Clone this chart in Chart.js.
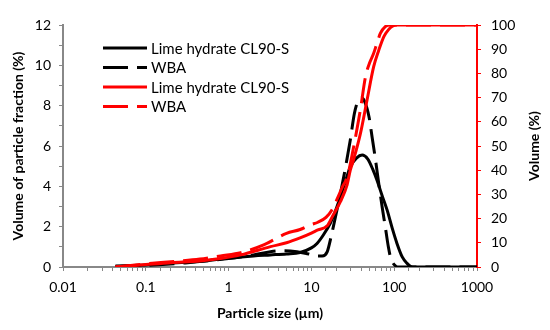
<!DOCTYPE html>
<html>
<head>
<meta charset="utf-8">
<script src="https://cdn.jsdelivr.net/npm/chart.js@4"></script>
<style>
  body { margin: 0; background: #fff; }
  #wrap { width: 550px; height: 330px; }
</style>
</head>
<body>
<div id="wrap"><canvas id="psd"></canvas></div>
<script>
// series names
var limeName = 'Lime hydrate CL90-S';
var wbaName = 'WBA';
var rightTitle = 'Volume (%)';

// frequency curves (left axis, %)
var limeFreqSize = [0.043, 0.1, 0.18, 0.5, 0.95, 2, 3.2, 5, 7.3, 10, 11.7, 14, 16.9, 20, 22.4, 26, 29.5, 35, 41, 48, 55, 62, 72, 82, 95, 108, 125, 143, 160, 175, 1000];
var limeFreq     = [0.05, 0.1, 0.18, 0.3, 0.43, 0.55, 0.6, 0.65, 0.72, 0.95, 1.17, 1.6, 2.17, 2.9, 3.49, 4.3, 4.97, 5.4, 5.55, 5.35, 4.85, 4.3, 3.5, 2.83, 1.9, 1.17, 0.5, 0.18, 0.02, 0, 0];

var wbaFreqSize = [0.043, 0.1, 0.3, 1, 2, 3.2, 4.6, 6.7, 9, 11.7, 13.5, 15.5, 17.5, 20.3, 24.6, 29.5, 33, 37, 40, 44, 49.6, 54, 60, 65, 72, 78, 85, 90, 95, 101, 110, 1000];
var wbaFreq     = [0.03, 0.08, 0.2, 0.42, 0.6, 0.76, 0.81, 0.76, 0.66, 0.55, 0.55, 0.75, 1.6, 2.8, 4.48, 6.3, 7.6, 8.3, 8.4, 8.2, 7.45, 6.46, 5.2, 4.15, 2.9, 2.0, 1.0, 0.5, 0.25, 0.1, 0, 0];

// cumulative curves (right axis, %)
var limeCumSize = [0.043, 0.1, 0.2, 0.45, 0.8, 1.4, 3.2, 5, 7.3, 10, 12, 15.5, 18, 22.4, 27, 29.5, 32.4, 39, 47, 56.5, 65, 75, 85, 95, 108, 1000];
var limeCum     = [0, 1, 1.8, 2.5, 3.5, 5, 8.4, 10, 12, 14, 15.3, 17, 21, 27, 34, 40, 44.5, 55, 69, 82.8, 89.5, 95.2, 98, 99.5, 100, 100];

var wbaCumSize = [0.043, 0.1, 0.2, 0.45, 0.8, 1.4, 2.65, 5, 7.3, 9.7, 12, 15, 18, 21, 24, 27, 32.4, 39, 45, 50, 56.5, 62, 68, 78, 90, 1000];
var wbaCum     = [0, 1.3, 2.2, 3.3, 4.6, 5.9, 9.1, 13.9, 15.5, 17.4, 18.5, 20.5, 24, 29, 33.5, 37, 49.7, 64.9, 78.6, 84, 88.3, 92.5, 96.5, 99.3, 100, 100];

// axis ticks
var xTickLabels = {'-2': '0.01', '-1': '0.1', '0': '1', '1': '10', '2': '100', '3': '1000'};

function pts(xs, ys) {
  return xs.map((x, i) => ({x: x, y: ys[i]}));
}

const FONT = 'Lato';
const dash = [25, 9];

// legend inside the plot (upper left) + right axis title reading upwards
const extras = {
  id: 'extras',
  afterDraw(chart) {
    const ctx = chart.ctx;
    ctx.save();
    chart.data.datasets.forEach((ds, i) => {
      const y = 48 + i * 19.5;
      ctx.beginPath();
      ctx.strokeStyle = ds.borderColor;
      ctx.lineWidth = ds.borderWidth;
      ctx.setLineDash(ds.borderDash || []);
      ctx.moveTo(103, y);
      ctx.lineTo(147, y);
      ctx.stroke();
      ctx.setLineDash([]);
      ctx.fillStyle = '#000';
      ctx.font = '15px ' + FONT;
      ctx.textBaseline = 'middle';
      ctx.fillText(ds.label, 151, y + 1);
    });
    // right title
    const a = chart.chartArea;
    ctx.translate(534, (a.top + a.bottom) / 2);
    ctx.rotate(-Math.PI / 2);
    ctx.font = 'bold 14px ' + FONT;
    ctx.textAlign = 'center';
    ctx.textBaseline = 'middle';
    ctx.fillStyle = '#000';
    ctx.fillText(rightTitle, 0, 0);
    ctx.restore();
  }
};

const ctx = document.getElementById('psd');
new Chart(ctx, {
  type: 'line',
  data: {
    datasets: [
      { label: limeName, data: pts(limeFreqSize, limeFreq), yAxisID: 'y', borderColor: '#000', borderWidth: 3, order: 2 },
      { label: wbaName, data: pts(wbaFreqSize, wbaFreq), yAxisID: 'y', borderColor: '#000', borderWidth: 3, borderDash: dash, order: 2 },
      { label: limeName, data: pts(limeCumSize, limeCum), yAxisID: 'y2', borderColor: '#ff0000', borderWidth: 3, order: 1 },
      { label: wbaName, data: pts(wbaCumSize, wbaCum), yAxisID: 'y2', borderColor: '#ff0000', borderWidth: 3, borderDash: dash, order: 1 }
    ]
  },
  options: {
    responsive: true,
    maintainAspectRatio: false,
    animation: false,
    layout: { padding: { top: 25, left: 0, right: 0, bottom: 0 } },
    elements: {
      point: { radius: 0 },
      line: { cubicInterpolationMode: 'monotone', fill: false, borderCapStyle: 'butt' }
    },
    plugins: {
      legend: { display: false },
      tooltip: { enabled: false }
    },
    scales: {
      x: {
        type: 'logarithmic',
        min: 0.01,
        max: 1000,
        afterFit: (s) => { s.height = 63; },
        border: { color: '#888', width: 2 },
        grid: { drawOnChartArea: false, drawTicks: true, tickLength: 4, color: '#888' },
        ticks: {
          autoSkip: false,
          maxRotation: 0,
          padding: 8,
          color: '#000',
          font: { family: FONT, size: 14 },
          callback: function (v) {
            const e = Math.log10(v);
            if (Math.abs(e - Math.round(e)) < 1e-6) return xTickLabels[String(Math.round(e))];
            return '';
          }
        },
        title: {
          display: true,
          text: 'Particle size (µm)',
          color: '#000',
          font: { family: FONT, size: 14, weight: 'bold' },
          padding: { top: 0, bottom: 8 }
        }
      },
      y: {
        position: 'left',
        min: 0,
        max: 12,
        afterFit: (s) => { s.width = 63; },
        border: { color: '#888', width: 2 },
        grid: { drawOnChartArea: false, drawTicks: true, tickLength: 4, color: '#888' },
        ticks: {
          stepSize: 1,
          padding: 8,
          color: '#000',
          font: { family: FONT, size: 14 },
          callback: (v) => (v % 2 === 0 ? v : '')
        },
        title: {
          display: true,
          text: 'Volume of particle fraction (%)',
          color: '#000',
          font: { family: FONT, size: 14, weight: 'bold' },
          padding: { top: 10, bottom: 0 }
        }
      },
      y2: {
        position: 'right',
        min: 0,
        max: 100,
        afterFit: (s) => { s.width = 73; },
        border: { color: '#ff0000', width: 2 },
        grid: { drawOnChartArea: false, drawTicks: true, tickLength: 4, color: '#ff0000' },
        ticks: {
          stepSize: 10,
          padding: 10,
          color: '#000',
          font: { family: FONT, size: 14 }
        }
      }
    }
  },
  plugins: [extras]
});
</script>
</body>
</html>
